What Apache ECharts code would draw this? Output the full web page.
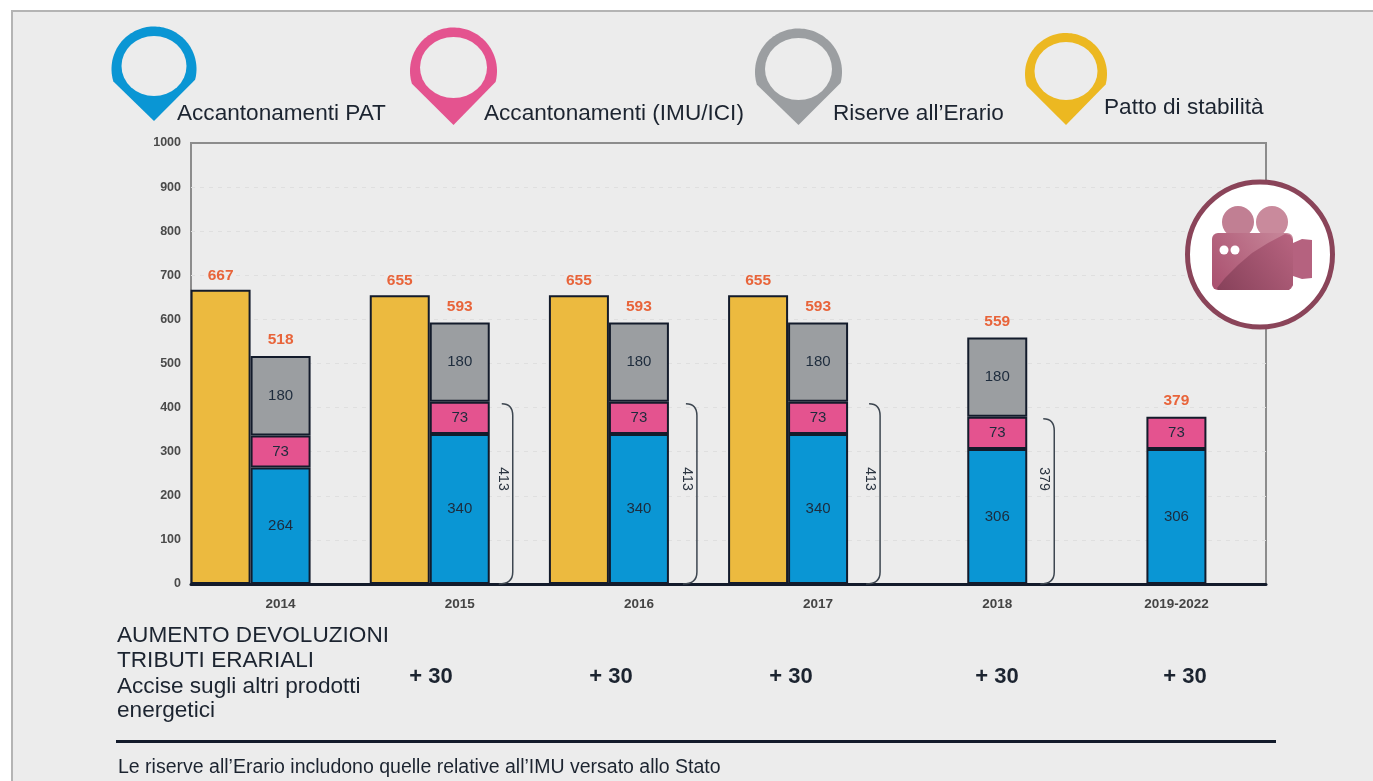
<!DOCTYPE html>
<html>

<head>
    <meta charset="utf-8" />
    <title>Accantonamenti e riserve</title>
    <style>
        html, body { margin: 0; padding: 0; background: #fff; }
        #div1 { width: 1373px; height: 781px; }
    </style>
    <script src="https://cdn.jsdelivr.net/npm/echarts@6/dist/echarts.min.js"></script>
</head>

<body>
    <div id="div1"></div>
    <script type="text/javascript">
        var categories = ['2014', '2015', '2016', '2017', '2018', '2019-2022'];
        var patto = [667, 655, 655, 655, null, null];
        var accantonamentiPat = [264, 340, 340, 340, 306, 306];
        var accantonamentiImu = [73, 73, 73, 73, 73, 73];
        var riserve = [180, 180, 180, 180, 180, null];
        var totals = [518, 593, 593, 593, 559, 379];
        var brackets = [null, 413, 413, 413, 379, null];
        var devoluzioni = ['+ 30', '+ 30', '+ 30', '+ 30', '+ 30'];
        var legendNames = ['Accantonamenti PAT', 'Accantonamenti (IMU/ICI)', 'Riserve all\u2019Erario', 'Patto di stabilit\u00e0'];

        var FONT = '"Liberation Sans", Arial, sans-serif';
        var BG = '#ececec';
        var EDGE = '#131b2b';
        var BLUE = '#0a96d4', PINK = '#e4538f', GREY = '#9b9ea1', YELLOW = '#ecba3f';

        // layout of the decorations
        var pins = [
            { cx: 154, cy: 69, r: 42.5, tip: 121, iy: 66, ir: 32.5, iry: 30, color: BLUE, tx: 177, ty: 114 },
            { cx: 453.5, cy: 71, r: 43.5, tip: 125, iy: 67.5, ir: 33.5, iry: 30.5, color: PINK, tx: 484, ty: 114 },
            { cx: 798.5, cy: 72, r: 43.5, tip: 125, iy: 69, ir: 33.5, iry: 31, color: GREY, tx: 833, ty: 114 },
            { cx: 1066, cy: 74, r: 41, tip: 125, iy: 71, ir: 31.5, iry: 29, color: '#ecb821', tx: 1104, ty: 108 }
        ];
        var plusX = [431, 611, 791, 997, 1185];
        var bracketShift = [0, 42, 47, 51, 46, 0];

        var graphics = [{
            type: 'rect', z: -10, silent: true,
            shape: { x: 12, y: 11, width: 1370, height: 780 },
            style: { fill: BG, stroke: '#b4b4b4', lineWidth: 2 }
        }];

        // teardrop outline: arc over the top, straight sides down to the tip
        function pinOutline(p) {
            var pts = [[p.cx, p.tip]];
            for (var a = -0.3; a <= Math.PI + 0.3; a += 0.05) {
                pts.push([p.cx - p.r * Math.cos(a), p.cy - p.r * Math.sin(a)]);
            }
            return pts;
        }

        pins.forEach(function(p, i) {
            graphics.push({ type: 'polygon', shape: { points: pinOutline(p) }, style: { fill: p.color } });
            graphics.push({ type: 'circle', x: p.cx, y: p.iy, scaleY: p.iry / p.ir, shape: { cx: 0, cy: 0, r: p.ir }, style: { fill: BG } });
            graphics.push({
                type: 'text', x: p.tx, y: p.ty,
                style: { text: legendNames[i], font: '22.6px ' + FONT, fill: '#1c2430', verticalAlign: 'middle' }
            });
        });

        var leftLines = [
            ['AUMENTO DEVOLUZIONI', 636],
            ['TRIBUTI ERARIALI', 661],
            ['Accise sugli altri prodotti', 687],
            ['energetici', 711]
        ];
        leftLines.forEach(function(l) {
            graphics.push({
                type: 'text', x: 117, y: l[1],
                style: { text: l[0], font: '22.6px ' + FONT, fill: '#1c2430', verticalAlign: 'middle' }
            });
        });
        devoluzioni.forEach(function(d, i) {
            graphics.push({
                type: 'text', x: plusX[i], y: 677,
                style: { text: d, font: 'bold 22px ' + FONT, fill: '#1c2430', align: 'center', verticalAlign: 'middle' }
            });
        });
        graphics.push({ type: 'rect', shape: { x: 116, y: 740, width: 1160, height: 3 }, style: { fill: EDGE } });
        graphics.push({
            type: 'text', x: 118, y: 768,
            style: { text: 'Le riserve all\u2019Erario includono quelle relative all\u2019IMU versato allo Stato', font: '19.5px ' + FONT, fill: '#1c2430', verticalAlign: 'middle' }
        });

        // camera badge
        var camLight = { type: 'linear', x: 0, y: 1, x2: 1, y2: 0, colorStops: [{ offset: 0, color: '#a94f6e' }, { offset: 1, color: '#c98a9c' }] };
        var camDark = { type: 'linear', x: 0, y: 1, x2: 1, y2: 0, colorStops: [{ offset: 0, color: '#87415a' }, { offset: 1, color: '#b86480' }] };
        var badge = [
            { type: 'circle', shape: { cx: 1260, cy: 254.5, r: 72.5 }, style: { fill: '#fff', stroke: '#8a4459', lineWidth: 5 } },
            { type: 'circle', shape: { cx: 1238, cy: 222, r: 16 }, style: { fill: '#c17f93' } },
            { type: 'circle', shape: { cx: 1272, cy: 222, r: 16 }, style: { fill: '#c98a9c' } },
            { type: 'rect', shape: { x: 1212, y: 233, width: 81, height: 57, r: 6 }, style: { fill: camLight } },
            {
                type: 'polygon',
                shape: { points: [[1217, 288], [1225, 278], [1238, 265], [1252, 253], [1268, 243], [1285, 234], [1290, 235], [1293, 240], [1293, 285], [1289, 290], [1218, 290]] },
                style: { fill: camDark }
            },
            { type: 'polygon', shape: { points: [[1293, 243], [1302, 239], [1312, 240], [1312, 278], [1302, 279], [1293, 276]] }, style: { fill: '#b5627f' } },
            { type: 'circle', shape: { cx: 1224, cy: 250, r: 4.5 }, style: { fill: '#fff' } },
            { type: 'circle', shape: { cx: 1235, cy: 250, r: 4.5 }, style: { fill: '#fff' } }
        ];
        badge.forEach(function(b, i) {
            b.z = 50 + i;
            graphics.push(b);
        });

        function segment(name, data, color) {
            return {
                name: name,
                type: 'bar',
                stack: 'b',
                barWidth: 60,
                barGap: 0,
                data: data,
                itemStyle: { color: color, borderColor: EDGE, borderWidth: 2 },
                label: { show: true, position: 'inside', color: '#1d2b3c', fontFamily: FONT, fontSize: 15 }
            };
        }

        var myChart = echarts.init(document.getElementById('div1'));

        var option = {
            animation: false,
            backgroundColor: '#fff',
            textStyle: { fontFamily: FONT },
            graphic: graphics,
            grid: {
                left: 191, right: 107, top: 143, bottom: 197,
                show: true, borderColor: '#8c8c8c', borderWidth: 2, backgroundColor: 'transparent'
            },
            xAxis: {
                type: 'category',
                data: categories,
                axisLine: { lineStyle: { color: EDGE, width: 3 } },
                axisTick: { show: false },
                axisLabel: { color: '#444', fontWeight: 'bold', fontSize: 13.5, margin: 13, fontFamily: FONT }
            },
            yAxis: {
                type: 'value',
                min: 0,
                max: 1000,
                interval: 100,
                axisLine: { show: false },
                axisTick: { show: false },
                axisLabel: {
                    color: '#4a4a4a', fontWeight: 'bold', fontSize: 12.5, margin: 10, fontFamily: FONT,
                    formatter: function(v) { return String(v); }
                },
                splitLine: { showMinLine: false, showMaxLine: false, lineStyle: { color: '#dfdfdf', type: [4, 5] } }
            },
            series: [
                {
                    name: legendNames[3],
                    type: 'bar',
                    stack: 'a',
                    barWidth: 60,
                    barGap: 0,
                    data: patto,
                    itemStyle: { color: YELLOW, borderColor: EDGE, borderWidth: 2 },
                    label: { show: true, position: 'top', distance: 6, color: '#e8643a', fontWeight: 'bold', fontSize: 15.5, fontFamily: FONT }
                },
                segment(legendNames[0], accantonamentiPat, BLUE),
                segment(legendNames[1], accantonamentiImu, PINK),
                segment(legendNames[2], riserve, GREY),
                {
                    // zero height bar on top of the stack, only carries the total
                    name: 'Totale',
                    type: 'bar',
                    stack: 'b',
                    barWidth: 60,
                    data: totals.map(function() { return 0; }),
                    itemStyle: { color: 'transparent', borderWidth: 0 },
                    label: {
                        show: true, position: 'top', distance: 8, color: '#e8643a', fontWeight: 'bold', fontSize: 15.5, fontFamily: FONT,
                        formatter: function(p) { return totals[p.dataIndex]; }
                    }
                },
                {
                    // empty third slot, pushes the bars to the left of each band
                    name: 'spacer',
                    type: 'bar',
                    stack: 'c',
                    barWidth: 60,
                    data: categories.map(function() { return null; })
                },
                {
                    name: 'Parentesi',
                    type: 'custom',
                    clip: false,
                    silent: true,
                    data: brackets.map(function(v, i) { return [i, v]; }).filter(function(d) { return d[1] !== null; }),
                    renderItem: function(params, api) {
                        var idx = api.value(0), val = api.value(1);
                        var base = api.coord([idx, 0]);
                        var top = api.coord([idx, val]);
                        var x0 = base[0] + bracketShift[idx], x1 = x0 + 11;
                        return {
                            type: 'group',
                            children: [{
                                type: 'path',
                                shape: {
                                    pathData: 'M' + x0 + ' ' + (top[1] + 2) + 'Q' + x1 + ' ' + (top[1] + 2) + ' ' + x1 + ' ' + (top[1] + 14) +
                                        'L' + x1 + ' ' + (base[1] - 12) + 'Q' + x1 + ' ' + base[1] + ' ' + (x0 - 3) + ' ' + base[1]
                                },
                                style: { fill: 'none', stroke: '#3d4650', lineWidth: 1.5 }
                            }, {
                                type: 'text',
                                x: x0 + 1,
                                y: 479,
                                rotation: -Math.PI / 2,
                                style: { text: String(val), font: '14px ' + FONT, fill: '#2b3440', align: 'center', verticalAlign: 'middle' }
                            }]
                        };
                    }
                }
            ]
        };
        myChart.setOption(option);
    </script>
</body>

</html>
